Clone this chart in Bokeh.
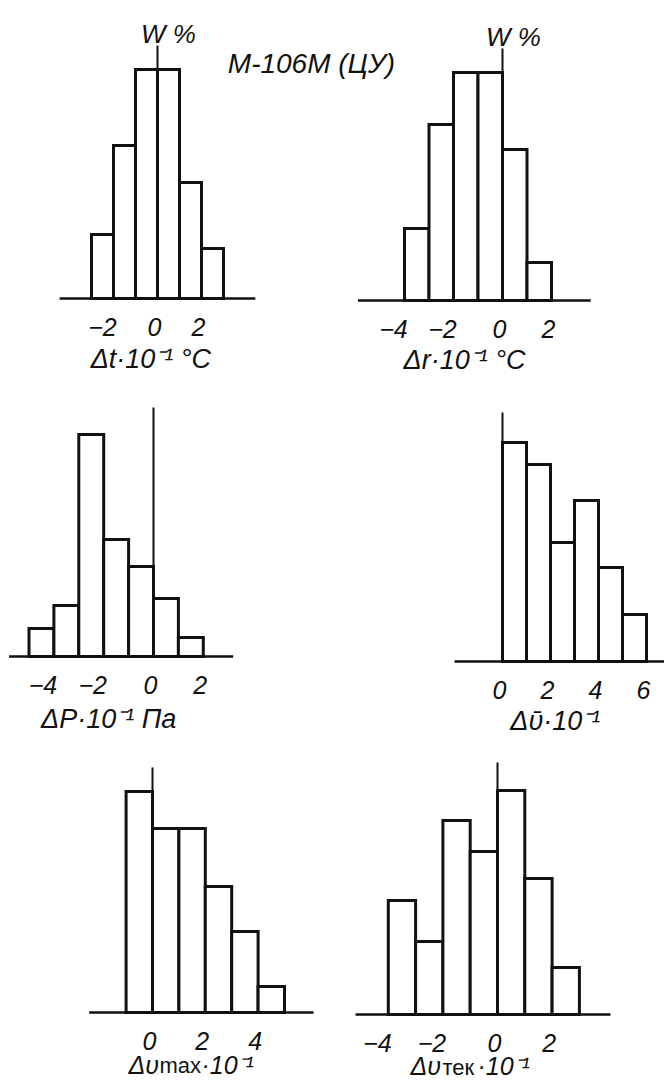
from bokeh.plotting import figure
from bokeh.models import Range1d
from bokeh.core.properties import value
from bokeh.embed import file_html
from bokeh.resources import INLINE

# ---- data: relative frequency W (%) per class interval --------------------
dt_edges = [-3, -2, -1, 0, 1, 2, 3]
dt_w = [6.4, 15.3, 22.9, 22.9, 11.6, 5.0]
dt_ticks = [-2, 0, 2]

dr_edges = [-4, -3, -2, -1, 0, 1, 2]
dr_w = [7.2, 17.6, 22.8, 22.8, 15.1, 3.8]
dr_ticks = [-4, -2, 0, 2]

dp_edges = [-5, -4, -3, -2, -1, 0, 1, 2]
dp_w = [2.8, 5.1, 22.2, 11.7, 9.0, 5.8, 1.9]
dp_ticks = [-4, -2, 0, 2]

dv_edges = [0, 1, 2, 3, 4, 5, 6]
dv_w = [21.9, 19.7, 11.9, 16.1, 9.4, 4.7]
dv_ticks = [0, 2, 4, 6]

dvmax_edges = [-1, 0, 1, 2, 3, 4, 5]
dvmax_w = [22.1, 18.4, 18.4, 12.6, 8.1, 2.6]
dvmax_ticks = [0, 2, 4]

dvtek_edges = [-4, -3, -2, -1, 0, 1, 2, 3]
dvtek_w = [11.4, 7.3, 19.4, 16.3, 22.4, 13.6, 4.7]
dvtek_ticks = [-4, -2, 0, 2]

title_text = "M-106M (ЦУ)"
w_label = "W %"

# ---- page layout ----------------------------------------------------------
PAGE_W, PAGE_H = 664, 1081
W_PX = 10.0                     # screen px per 1 % of W (all panels)
FONT = value("Liberation Sans")
INK = "#111111"

# zero_x / unit: screen position of x = 0 and px per x unit,
# base: screen y of the W = 0 line, span: extent of the x axis line,
# top: length of the W axis, lab_x: anchor of the axis caption,
# lab_dy: caption baseline below the x axis
panels = [
    dict(edges=dt_edges, w=dt_w, ticks=dt_ticks, zero_x=157, unit=22.0, base=298,
         span=(-4.45, 4.45), top=25.3, show_w=True, lab_x=-0.3, lab_dy=60,
         align="center", parts=[("Δt·10⁻¹ °C", 0, 0, "27px", "italic")]),
    dict(edges=dr_edges, w=dr_w, ticks=dr_ticks, zero_x=502, unit=24.5, base=300,
         span=(-5.9, 3.6), top=25.2, show_w=True, lab_x=-1.55, lab_dy=59,
         align="center", parts=[("Δr·10⁻¹ °C", 0, 0, "27px", "italic")]),
    dict(edges=dp_edges, w=dp_w, ticks=dp_ticks, zero_x=153, unit=24.9, base=656,
         span=(-5.8, 3.2), top=24.9, show_w=False, lab_x=-1.8, lab_dy=62,
         align="center", parts=[("ΔP·10⁻¹ Па", 0, 0, "27px", "italic")]),
    dict(edges=dv_edges, w=dv_w, ticks=dv_ticks, zero_x=502, unit=24.0, base=661,
         span=(-2.0, 7.0), top=24.9, show_w=False, lab_x=2.2, lab_dy=59,
         align="center", parts=[("Δῡ·10⁻¹", 0, 0, "27px", "italic")]),
    dict(edges=dvmax_edges, w=dvmax_w, ticks=dvmax_ticks, zero_x=152, unit=26.4, base=1012,
         span=(-2.4, 6.1), top=24.5, show_w=False, lab_x=-0.91, lab_dy=52,
         align="left", parts=[("Δυ", 0, 0, "25px", "italic"),
                              ("max", 31, 1, "22px", "normal"),
                              ("·10⁻¹", 73, 0, "25px", "italic")]),
    dict(edges=dvtek_edges, w=dvtek_w, ticks=dvtek_ticks, zero_x=497, unit=27.3, base=1014,
         span=(-5.2, 4.14), top=25.2, show_w=False, lab_x=-3.19, lab_dy=51,
         align="left", parts=[("Δυ", 0, 0, "25px", "italic"),
                              ("тек", 32, 2, "22px", "normal"),
                              ("·10⁻¹", 67, 0, "25px", "italic")]),
]

p = figure(width=PAGE_W, height=PAGE_H,
           x_range=Range1d(0, PAGE_W), y_range=Range1d(PAGE_H, 0),
           x_axis_type=None, y_axis_type=None,
           toolbar_location=None, output_backend="svg",
           min_border=0, outline_line_color=None,
           background_fill_color="white", border_fill_color="white")

xr_map, yr_map = {}, {}
for i, pn in enumerate(panels):
    xr_map[f"x{i}"] = Range1d(-pn["zero_x"] / pn["unit"], (PAGE_W - pn["zero_x"]) / pn["unit"])
    yr_map[f"y{i}"] = Range1d(-(PAGE_H - pn["base"]) / W_PX, pn["base"] / W_PX)
p.extra_x_ranges = xr_map
p.extra_y_ranges = yr_map


def tick_text(t):
    return f"−{abs(t)}" if t < 0 else str(t)


for i, pn in enumerate(panels):
    rn = dict(x_range_name=f"x{i}", y_range_name=f"y{i}")
    edges, w = pn["edges"], pn["w"]

    # histogram bars
    p.quad(left=edges[:-1], right=edges[1:], bottom=[0] * len(w), top=w,
           fill_color="white", line_color=INK, line_width=3, line_join="miter", **rn)

    # x axis line and the W axis at x = 0
    p.segment(x0=[pn["span"][0]], y0=[0], x1=[pn["span"][1]], y1=[0],
              line_color=INK, line_width=2.5, **rn)
    p.segment(x0=[0], y0=[0], x1=[0], y1=[pn["top"]],
              line_color=INK, line_width=2, **rn)

    # tick labels (italic digits, minus sign hanging left of the tick)
    ticks = pn["ticks"]
    p.text(x=ticks, y=[0] * len(ticks), text=[tick_text(t) for t in ticks],
           x_offset=[-11 if t < 0 else -3 for t in ticks], y_offset=28,
           text_align="center", text_baseline="alphabetic",
           text_font=FONT, text_font_style="italic", text_font_size="25px",
           text_color=INK, **rn)

    # axis caption
    for txt, dx, dy, size, style in pn["parts"]:
        p.text(x=[pn["lab_x"]], y=[0], text=[txt],
               x_offset=dx, y_offset=pn["lab_dy"] + dy,
               text_align=pn["align"], text_baseline="alphabetic",
               text_font=FONT, text_font_style=style, text_font_size=size,
               text_color=INK, **rn)

    # W % caption over the vertical axis
    if pn["show_w"]:
        p.text(x=[0], y=[pn["top"]], text=[w_label], x_offset=11, y_offset=-12,
               text_align="center", text_baseline="alphabetic",
               text_font=FONT, text_font_style="italic", text_font_size="26px",
               text_color=INK, **rn)

# instrument designation
p.text(x=[311], y=[63], text=[title_text], text_align="center",
       text_baseline="alphabetic", text_font=FONT, text_font_style="italic",
       text_font_size="28px", text_color=INK)

open("out.html", "w").write(file_html(p, INLINE))
